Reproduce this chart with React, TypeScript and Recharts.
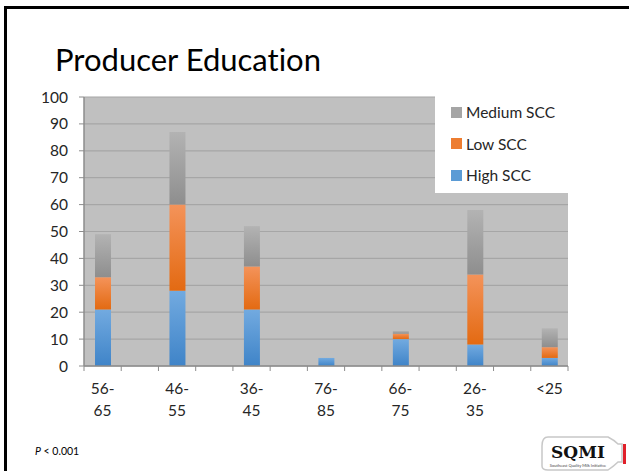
import React from 'react';
import { BarChart, Bar, XAxis, YAxis, CartesianGrid } from 'recharts';

const categories = ['56-65', '46-55', '36-45', '76-85', '66-75', '26-35', '<25'];
const highSCC = [21, 28, 21, 3, 10, 8, 3];
const lowSCC = [12, 32, 16, 0, 2, 26, 4];
const mediumSCC = [16, 27, 15, 0, 1, 24, 7];
const yTicks = [0, 10, 20, 30, 40, 50, 60, 70, 80, 90, 100];
const legendItems = [
  { name: 'Medium SCC', color: '#a5a5a5' },
  { name: 'Low SCC', color: '#ed7d31' },
  { name: 'High SCC', color: '#5b9bd5' },
];

type Row = { key: string; label: string; high?: number; low?: number; medium?: number };
const data: Row[] = [];
categories.forEach((c, i) => {
  data.push({ key: 'c' + i, label: c, high: highSCC[i], low: lowSCC[i], medium: mediumSCC[i] });
  if (i < categories.length - 1) data.push({ key: 'g' + i, label: '' });
});

const FONT = 'Lato, "DejaVu Sans", sans-serif';
const PLOT_LEFT = 84;
const PLOT_RIGHT = 568;
const BAND = (PLOT_RIGHT - PLOT_LEFT) / data.length;

const XTick = (props: any) => {
  const { x, y, payload, index } = props;
  const row = data[index] || data.find((d) => d.key === payload.value);
  const label = row ? row.label : '';
  let lines: string[] = [];
  if (label) {
    const p = label.indexOf('-');
    lines = p >= 0 ? [label.slice(0, p + 1), label.slice(p + 1)] : [label];
  }
  const isLast = index === data.length - 1;
  return (
    <g>
      <line x1={x - BAND / 2} x2={x - BAND / 2} y1={y} y2={y + 5} stroke="#8c8c8c" />
      {isLast && <line x1={x + BAND / 2} x2={x + BAND / 2} y1={y} y2={y + 5} stroke="#8c8c8c" />}
      {lines.map((l, i) => (
        <text key={i} x={x} y={y + 28 + i * 22} textAnchor="middle" fontSize={15.5} fill="#262626" fontFamily={FONT}>
          {l}
        </text>
      ))}
    </g>
  );
};

export default function App() {
  return (
    <div style={{ position: 'absolute', left: 0, top: 0, width: 629, height: 471, overflow: 'hidden', background: '#fff', fontFamily: FONT }}>
      <div style={{ position: 'absolute', left: 4, top: 6, width: 700, height: 500, borderLeft: '3px solid #000', borderTop: '3px solid #000' }} />
      <div style={{ position: 'absolute', left: 55, top: 39, fontSize: 31, color: '#000', lineHeight: '40px', whiteSpace: 'nowrap', fontVariantLigatures: 'none' }}>
        Producer Education
      </div>
      <div style={{ position: 'absolute', left: 0, top: 0 }}>
        <BarChart width={629} height={471} data={data} margin={{ top: 97, right: 629 - PLOT_RIGHT, bottom: 45, left: 0 }}>
          <defs>
            <linearGradient id="gHigh" x1="0" y1="0" x2="0" y2="1">
              <stop offset="0%" stopColor="#72aae0" />
              <stop offset="100%" stopColor="#3f84c8" />
            </linearGradient>
            <linearGradient id="gLow" x1="0" y1="0" x2="0" y2="1">
              <stop offset="0%" stopColor="#f4935a" />
              <stop offset="100%" stopColor="#e36a12" />
            </linearGradient>
            <linearGradient id="gMed" x1="0" y1="0" x2="0" y2="1">
              <stop offset="0%" stopColor="#b3b3b3" />
              <stop offset="100%" stopColor="#8e8e8e" />
            </linearGradient>
          </defs>
          <CartesianGrid vertical={false} fill="#c0c0c0" stroke="#a6a6a6" strokeWidth={1.2} />
          <XAxis
            dataKey="key"
            height={60}
            interval={0}
            tickLine={false}
            tickSize={0}
            tickMargin={0}
            axisLine={{ stroke: '#8c8c8c', strokeWidth: 1.5 }}
            tick={<XTick />}
          />
          <YAxis
            width={PLOT_LEFT}
            domain={[0, 100]}
            ticks={yTicks}
            interval={0}
            tickSize={5}
            tickMargin={11}
            axisLine={{ stroke: '#8c8c8c', strokeWidth: 1.5 }}
            tickLine={{ stroke: '#8c8c8c' }}
            tick={{ fontSize: 15.5, fill: '#262626', fontFamily: FONT }}
          />
          <Bar dataKey="high" stackId="a" fill="url(#gHigh)" barSize={16} isAnimationActive={false} />
          <Bar dataKey="low" stackId="a" fill="url(#gLow)" barSize={16} isAnimationActive={false} />
          <Bar dataKey="medium" stackId="a" fill="url(#gMed)" barSize={16} isAnimationActive={false} />
        </BarChart>
      </div>
      <div style={{ position: 'absolute', left: 435, top: 88, width: 194, height: 105, background: '#fff' }}>
        {legendItems.map((it, i) => (
          <div key={it.name} style={{ position: 'absolute', left: 16, top: 14 + i * 31.7, height: 20, display: 'flex', alignItems: 'center', whiteSpace: 'nowrap' }}>
            <span style={{ display: 'inline-block', width: 11, height: 11, background: it.color, marginRight: 4 }} />
            <span style={{ fontSize: 15.5, color: '#262626' }}>{it.name}</span>
          </div>
        ))}
      </div>
      <div style={{ position: 'absolute', left: 35, top: 445, fontSize: 10.5, color: '#000', whiteSpace: 'nowrap' }}>
        <i>P</i> &lt; 0.001
      </div>
      <svg style={{ position: 'absolute', left: 538, top: 432 }} width={91} height={39}>
        <path d="M10 5 Q4 5 4 14 L4 34 Q4 38 10 38 L70 38 Q76 34 80 30 L84 30 L84 12 L80 12 Q76 8 70 5 Z" fill="#fff" stroke="#c8c8c8" strokeWidth={1.5} />
        <rect x={85} y={12} width={3} height={20} fill="#e0202a" />
        <text x={40} y={26} textAnchor="middle" fontSize={17} fontWeight="bold" fontFamily='"DejaVu Serif", serif' fill="#111">SQMI</text>
        <text x={40} y={35} textAnchor="middle" fontSize={4} fontFamily={FONT} fill="#444">Southeast Quality Milk Initiative</text>
      </svg>
    </div>
  );
}
